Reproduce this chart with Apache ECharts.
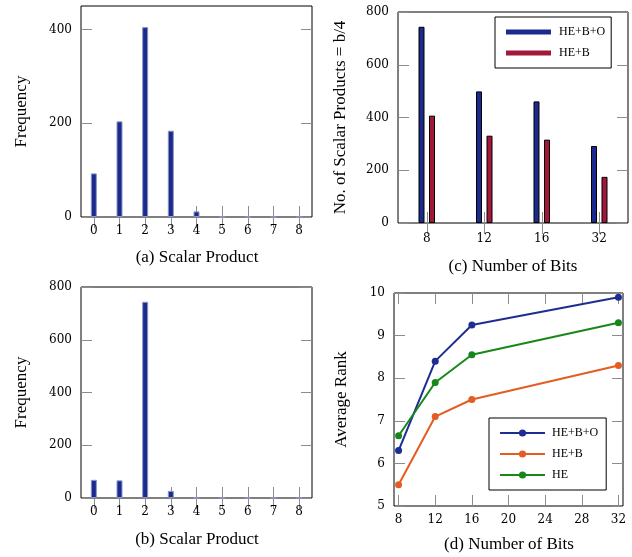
<!DOCTYPE html>
<html>
<head>
<meta charset="utf-8">
<script src="https://cdn.jsdelivr.net/npm/echarts@6/dist/echarts.min.js"></script>
<style>
  html, body { margin: 0; padding: 0; background: #fff; }
  #chart { width: 632px; height: 557px; }
</style>
</head>
<body>
<div id="chart"></div>
<script>
// (a) / (b) frequency of scalar products
const scalarCats = ['0', '1', '2', '3', '4', '5', '6', '7', '8']
const freqA = [93, 204, 405, 184, 12, 0, 0, 0, 0]
const freqB = [69, 67, 744, 27, 0, 0, 0, 0, 0]
const yTicksA = [0, 200, 400]

// (c) number of scalar products = b/4
const bitCats = ['8', '12', '16', '32']
const countHEBO = [744, 499, 461, 292]
const countHEB = [407, 331, 316, 175]

// (d) average rank
const bitsD = [8, 12, 16, 32]
const rankHEBO = [6.3, 8.4, 9.25, 9.9]
const rankHEB = [5.5, 7.1, 7.5, 8.3]
const rankHE = [6.65, 7.9, 8.55, 9.3]
const xTicksD = [8, 12, 16, 20, 24, 28, 32]

const serif = 'Liberation Serif'
const tickFont = { fontFamily: 'DejaVu Serif', fontSize: 12, color: '#000' }
const tick = { show: true, inside: true, length: 11, lineStyle: { color: '#8c8c8c', width: 1 } }
const blue = '#1b2a8c'
const red = '#a3173b'

function catAxis(grid, data, top, margin) {
  return {
    type: 'category',
    gridIndex: grid,
    position: top ? 'top' : 'bottom',
    data: data,
    axisLine: { show: false },
    axisTick: Object.assign({ alignWithLabel: true }, tick),
    axisLabel: top ? { show: false } : Object.assign({ margin: margin }, tickFont),
    splitLine: { show: false }
  }
}

function valAxis(grid, min, max, opts, right) {
  const ax = {
    type: 'value',
    gridIndex: grid,
    position: right ? 'right' : 'left',
    min: min,
    max: max,
    axisLine: { show: false },
    axisTick: Object.assign({}, tick),
    axisLabel: right ? { show: false } : Object.assign({ margin: 9 }, tickFont),
    splitLine: { show: false }
  }
  if (opts.interval) ax.interval = opts.interval
  if (opts.ticks) {
    ax.axisTick.customValues = opts.ticks
    if (!right) ax.axisLabel.customValues = opts.ticks
  }
  if (opts.name && !right) {
    ax.name = opts.name
    ax.nameLocation = 'middle'
    ax.nameGap = opts.nameGap
    ax.nameTextStyle = { fontFamily: serif, fontSize: 17, color: '#000' }
  }
  return ax
}

const box = { show: true, borderColor: '#000', borderWidth: 1, backgroundColor: 'transparent' }

const chart = echarts.init(document.getElementById('chart'))
const option = {
  animation: false,
  grid: [
    Object.assign({ left: 81, top: 6, width: 231, height: 211 }, box),
    Object.assign({ left: 81, top: 287, width: 231, height: 211 }, box),
    Object.assign({ left: 398, top: 12, width: 230, height: 211 }, box),
    Object.assign({ left: 394, top: 293, width: 229, height: 213 }, box)
  ],
  xAxis: [
    catAxis(0, scalarCats, false, 8),
    catAxis(0, scalarCats, true),
    catAxis(1, scalarCats, false, 8),
    catAxis(1, scalarCats, true),
    catAxis(2, bitCats, false, 10),
    catAxis(2, bitCats, true),
    {
      type: 'value', gridIndex: 3, min: 7.5, max: 32.5,
      axisLine: { show: false },
      axisTick: Object.assign({ customValues: xTicksD }, tick),
      axisLabel: Object.assign({ customValues: xTicksD, margin: 8 }, tickFont),
      splitLine: { show: false }
    },
    {
      type: 'value', gridIndex: 3, position: 'top', min: 7.5, max: 32.5,
      axisLine: { show: false },
      axisTick: Object.assign({ customValues: xTicksD }, tick),
      axisLabel: { show: false },
      splitLine: { show: false }
    }
  ],
  yAxis: [
    valAxis(0, 0, 450, { ticks: yTicksA, name: 'Frequency', nameGap: 51 }),
    valAxis(0, 0, 450, { ticks: yTicksA }, true),
    valAxis(1, 0, 800, { interval: 200, name: 'Frequency', nameGap: 51 }),
    valAxis(1, 0, 800, { interval: 200 }, true),
    valAxis(2, 0, 800, { interval: 200, name: 'No. of Scalar Products = b/4', nameGap: 49 }),
    valAxis(2, 0, 800, { interval: 200 }, true),
    valAxis(3, 5, 10, { interval: 1, name: 'Average Rank', nameGap: 44 }),
    valAxis(3, 5, 10, { interval: 1 }, true)
  ],
  legend: [
    {
      orient: 'vertical',
      left: 495,
      top: 17,
      padding: [9, 6, 9, 11],
      itemGap: 9,
      itemWidth: 45,
      itemHeight: 5,
      icon: 'rect',
      borderColor: '#000',
      borderWidth: 1,
      itemStyle: { borderWidth: 0 },
      textStyle: { fontFamily: serif, fontSize: 12, color: '#000', padding: [0, 0, 0, 3] },
      data: ['HE+B+O', 'HE+B']
    },
    {
      orient: 'vertical',
      left: 489,
      top: 418,
      padding: [9, 8, 9, 10],
      itemGap: 9,
      itemWidth: 45,
      itemHeight: 9,
      borderColor: '#000',
      borderWidth: 1,
      textStyle: { fontFamily: serif, fontSize: 12, color: '#000', padding: [0, 0, 0, 2] },
      formatter: (name) => name.replace(/^d:/, ''),
      data: ['d:HE+B+O', 'd:HE+B', 'd:HE']
    }
  ],
  graphic: [
    ['(a) Scalar Product', 197, 258],
    ['(b) Scalar Product', 197, 540],
    ['(c) Number of Bits', 513, 267],
    ['(d) Number of Bits', 509, 545]
  ].map(c => ({
    type: 'text',
    x: c[1],
    y: c[2],
    style: { text: c[0], fontFamily: serif, fontSize: 17, fill: '#000', textAlign: 'center', textVerticalAlign: 'middle' }
  })),
  series: [
    {
      name: 'freqA', type: 'bar', xAxisIndex: 0, yAxisIndex: 0, data: freqA, barWidth: 6,
      itemStyle: { color: blue, borderColor: '#8a96c8', borderWidth: 1 }
    },
    {
      name: 'freqB', type: 'bar', xAxisIndex: 2, yAxisIndex: 2, data: freqB, barWidth: 6,
      itemStyle: { color: blue, borderColor: '#8a96c8', borderWidth: 1 }
    },
    {
      name: 'HE+B+O', type: 'bar', xAxisIndex: 4, yAxisIndex: 4, data: countHEBO, barWidth: 6, barGap: '75%',
      itemStyle: { color: blue, borderColor: '#000', borderWidth: 1 }
    },
    {
      name: 'HE+B', type: 'bar', xAxisIndex: 4, yAxisIndex: 4, data: countHEB, barWidth: 6, barGap: '75%',
      itemStyle: { color: red, borderColor: '#000', borderWidth: 1 }
    },
    {
      name: 'd:HE+B+O', type: 'line', xAxisIndex: 6, yAxisIndex: 6,
      data: bitsD.map((b, i) => [b, rankHEBO[i]]),
      symbol: 'circle', symbolSize: 7,
      lineStyle: { width: 2, color: '#1f2d92' }, itemStyle: { color: '#1f2d92' }
    },
    {
      name: 'd:HE+B', type: 'line', xAxisIndex: 6, yAxisIndex: 6,
      data: bitsD.map((b, i) => [b, rankHEB[i]]),
      symbol: 'circle', symbolSize: 7,
      lineStyle: { width: 2, color: '#e35d22' }, itemStyle: { color: '#e35d22' }
    },
    {
      name: 'd:HE', type: 'line', xAxisIndex: 6, yAxisIndex: 6,
      data: bitsD.map((b, i) => [b, rankHE[i]]),
      symbol: 'circle', symbolSize: 7,
      lineStyle: { width: 2, color: '#17871a' }, itemStyle: { color: '#17871a' }
    }
  ]
}
chart.setOption(option)
</script>
</body>
</html>
